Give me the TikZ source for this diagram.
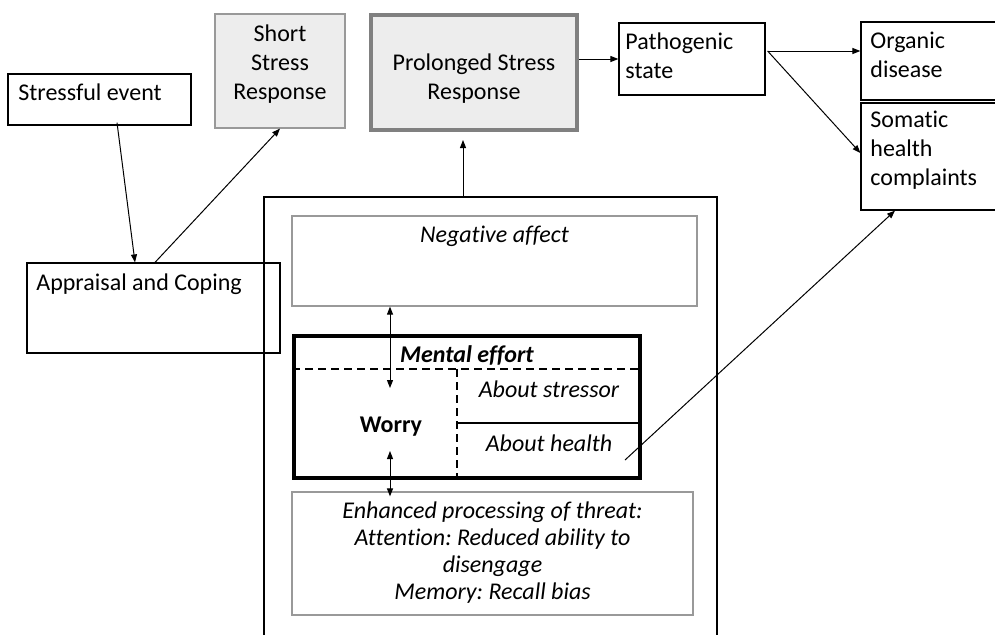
\documentclass[tikz,border=0pt]{standalone}
\usepackage{fontspec}
\setmainfont{Carlito}[Ligatures=NoCommon]
\frenchspacing
\usetikzlibrary{arrows.meta,calc}

\begin{document}
\begin{tikzpicture}[x=0.5pt, y=-0.5pt,
        box/.style={draw, line width=0.6pt, inner sep=0pt},
        greybox/.style={draw=black!40, line width=0.6pt, inner sep=0pt},
        lbl/.style={inner sep=0pt, font={\fontsize{12}{14.5}\selectfont}},
        itlbl/.style={inner sep=0pt, font={\fontsize{12}{14.5}\selectfont\itshape}},
        bflbl/.style={inner sep=0pt, font={\fontsize{12}{14.5}\selectfont\bfseries}},
        bilbl/.style={inner sep=0pt, font={\fontsize{12}{14.5}\selectfont\bfseries\itshape}},
        dashline/.style={line width=1pt, dash pattern=on 4pt off 2.5pt},
        arr/.style={-{Triangle[length=4pt,width=3pt]}, line width=0.5pt},
        dblarr/.style={{Triangle[length=4pt,width=3pt]}-{Triangle[length=4pt,width=3pt]}, line width=0.5pt}]
    \useasboundingbox (0,0) rectangle (995,634);
    % boxes
    \node[box, minimum width=91.5pt, minimum height=25.5pt] (event) at (99.5,99.5) {};
    \node[greybox, fill=black!7, minimum width=65pt, minimum height=57pt] (short) at (280,71) {};
    \node[draw=black!50, fill=black!7, line width=2pt, inner sep=0pt, minimum width=103pt, minimum height=57.5pt] (prolonged) at (474,72.5) {};
    \node[box, minimum width=73pt, minimum height=36pt] (pathogenic) at (692,59) {};
    \node[box, minimum width=69.5pt, minimum height=39pt] (organic) at (930.5,61) {};
    \node[box, minimum width=69.5pt, minimum height=53.5pt] (somatic) at (930.5,156.5) {};
    \node[box, minimum width=126.5pt, minimum height=45pt] (appraisal) at (153.5,308) {};
    \node[box, minimum width=226.5pt, minimum height=224pt] (outer) at (490.5,421) {};
    \node[greybox, minimum width=202.5pt, minimum height=45pt] (negaff) at (494.5,261) {};
    \node[draw, line width=2pt, inner sep=0pt, minimum width=173pt, minimum height=71pt] (mental) at (467,407) {};
    \node[greybox, minimum width=200.5pt, minimum height=61.5pt] (threat) at (492.5,553.5) {};
    % inner split of the worry box
    \draw[dashline] ($(mental.north west)+(0,35)$) -- ($(mental.north east)+(0,35)$);
    \draw[dashline] ($(mental.north west)+(165,35)$) -- ($(mental.south west)+(165,0)$);
    \draw[dashline, line width=0.8pt] ($(mental.south west)+(165,-3)$) -- ($(mental.south east)+(0,-3)$);
    \draw[line width=0.8pt] ($(mental.north west)+(165,89)$) -- ($(mental.north east)+(0,89)$);
    % texts (multi-line ones sit on their last baseline)
    \node[lbl, anchor=base west] (eventtxt) at (18,100) {Stressful event};
    \node[lbl, anchor=base, align=center] (shorttxt) at (280,99) {Short\\Stress\\Response};
    \node[lbl, anchor=base, align=center] (prolongedtxt) at (474,99) {Prolonged Stress\\Response};
    \node[lbl, anchor=base west, align=left] (pathogenictxt) at (625,78) {Pathogenic\\state};
    \node[lbl, anchor=base west, align=left] (organictxt) at (870,77) {Organic\\disease};
    \node[lbl, anchor=base west, align=left] (somatictxt) at (870,185) {Somatic\\health\\complaints};
    \node[lbl, anchor=base west] (appraisaltxt) at (36,290) {Appraisal and Coping};
    \node[itlbl, anchor=base] (negafftxt) at (494.5,242) {Negative affect};
    \node[bilbl, anchor=base] (mentaltxt) at (467,362) {Mental effort};
    \node[bflbl, anchor=base] (worry) at (391,432) {Worry};
    \node[itlbl, anchor=base] (stressortxt) at (549,397) {About stressor};
    \node[itlbl, anchor=base] (healthtxt) at (549,451) {About health};
    \node[itlbl, anchor=base, align=center, font={\fontsize{12}{13.5}\selectfont\itshape}] (threattxt) at (492.5,599)
        {Enhanced processing of threat:\\Attention: Reduced ability to\\disengage\\Memory: Recall bias};
    % connectors
    \coordinate (fork) at ($(pathogenic.east)+(2,-8)$);
    \coordinate (healthend) at (625,460);
    \coordinate (wtop) at (390,388);
    \coordinate (wbot) at (390,451);
    \draw[arr] ($(event.south)+(17.5,-3)$) -- ($(appraisal.north)+(-18.5,0)$);
    \draw[arr] ($(appraisal.north)+(1.5,0)$) -- (short.south);
    \draw[arr] ($(outer.north)+(-27.5,0)$) -- ($(prolonged.south)+(-11,8)$);
    \draw[arr] (prolonged.east |- pathogenic.west) -- (pathogenic.west);
    \draw[arr] (fork) -- (fork -| organic.west);
    \draw[arr] (fork) -- ($(somatic.west)+(0,-3.5)$);
    \draw[arr] (healthend) -- ($(somatic.south)+(-35.5,0)$);
    \draw[dblarr] (negaff.south -| wtop) -- (wtop);
    \draw[dblarr] (wbot) -- ($(wbot |- threat.north)+(0,5)$);
\end{tikzpicture}
\end{document}
